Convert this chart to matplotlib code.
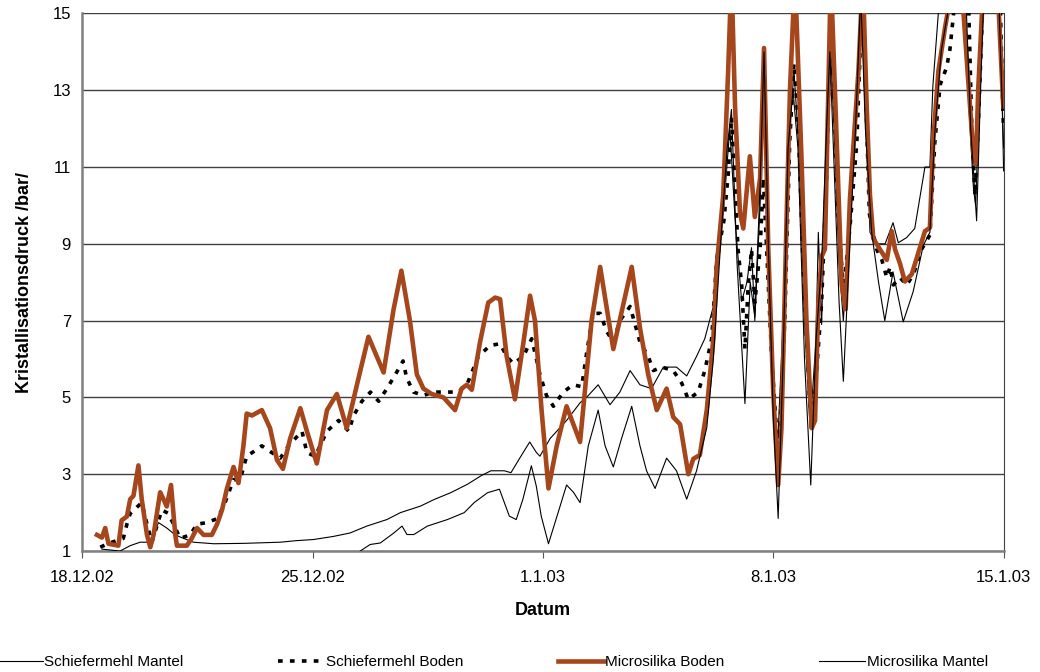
# -*- coding: utf-8 -*-
import numpy as np
import matplotlib.pyplot as plt

plt.rcParams['font.family'] = ['Liberation Sans', 'DejaVu Sans']

# Tage ab 18.12.02 und Kristallisationsdruck in bar
date_ticks = [0, 7, 14, 21, 28]
date_labels = ['18.12.02', '25.12.02', '1.1.03', '8.1.03', '15.1.03']
y_ticks = [1, 3, 5, 7, 9, 11, 13, 15]

# Schiefermehl Mantel
sm_t = [0.6, 1.15, 1.46, 1.76, 2.07, 2.32, 2.57, 2.83, 3.08, 3.38, 4.0, 4.9, 6.02, 6.5,
        7.03, 7.63, 8.14, 8.65, 9.26, 9.67, 10.28, 10.69, 11.2, 11.71, 12.12, 12.42,
        12.83, 13.03, 13.34, 13.6, 13.8, 13.91, 14.22, 14.72, 15.13, 15.38, 15.68, 16.04,
        16.34, 16.65, 16.95, 17.3, 17.66, 18.06, 18.37, 18.67, 18.92, 19.18, 19.35, 19.5,
        19.68, 19.85, 20.04, 20.2, 20.34, 20.44, 20.6, 20.72, 20.85, 21.0, 21.12, 21.3,
        21.5, 21.63, 21.78, 21.95, 22.12, 22.3, 22.37, 22.47, 22.6, 22.72, 22.85, 23.0,
        23.13, 23.3, 23.55, 23.7, 23.8, 23.94, 24.14, 24.4, 24.64, 24.8, 25.05, 25.3,
        25.61, 25.76, 25.85, 26.06, 26.8, 26.95, 27.08, 27.15, 27.25, 27.35, 27.89, 28.0]
sm_v = [1.05, 1.0, 1.14, 1.23, 1.23, 1.74, 1.6, 1.42, 1.33, 1.23, 1.19, 1.2, 1.23, 1.27,
        1.3, 1.38, 1.47, 1.65, 1.82, 2.0, 2.17, 2.34, 2.52, 2.74, 2.96, 3.09,
        3.09, 3.04, 3.48, 3.84, 3.57, 3.47, 3.93, 4.4, 4.86, 5.05, 5.33, 4.81,
        5.14, 5.7, 5.33, 5.23, 5.79, 5.79, 5.56, 6.07, 6.53, 7.37, 8.6, 10.0,
        12.0, 9.5, 7.5, 8.0, 8.9, 7.0, 10.0, 13.0, 9.0, 5.5, 3.5, 7.0,
        12.0, 13.5, 11.5, 7.0, 4.2, 6.5, 9.3, 6.9, 11.0, 14.5, 12.0, 8.5,
        7.0, 9.3, 12.5, 15.5, 12.5, 9.3, 9.0, 9.0, 9.55, 9.03, 9.16, 9.4,
        11.0, 11.0, 13.1, 15.5, 15.5, 12.5, 10.5, 10.0, 12.5, 15.5, 15.5, 10.9]

# Schiefermehl Boden
sb_t = [0.55, 0.8, 1.25, 1.36, 1.46, 1.81, 1.97, 2.12, 2.42, 2.62, 2.83, 2.98, 3.28, 3.49,
        3.79, 4.09, 4.3, 4.6, 4.8, 5.0, 5.16, 5.46, 5.77, 6.02, 6.27, 6.42, 6.68, 6.83,
        7.08, 7.44, 7.79, 8.1, 8.25, 8.5, 8.76, 9.01, 9.26, 9.52, 9.75, 9.86, 10.07, 10.37,
        10.67, 11.08, 11.43, 11.69, 12.04, 12.39, 12.7, 12.9, 13.1, 13.41, 13.66, 13.91,
        14.11, 14.32, 14.62, 14.92, 15.18, 15.33, 15.53, 15.74, 15.94, 16.14, 16.34, 16.65,
        16.95, 17.2, 17.36, 17.61, 17.96, 18.22, 18.42, 18.72, 18.92, 19.13, 19.28, 19.5,
        19.63, 19.73, 19.83, 19.93, 20.04, 20.14, 20.24, 20.34, 20.44, 20.6, 20.7, 20.8,
        20.95, 21.08, 21.18, 21.35, 21.5, 21.63, 21.76, 21.91, 22.12, 22.27, 22.47, 22.62,
        22.72, 22.82, 22.97, 23.13, 23.33, 23.54, 23.64, 23.72, 23.79, 23.92, 24.14, 24.3,
        24.45, 24.55, 24.65, 24.85, 25.06, 25.26, 25.51, 25.76, 25.91, 26.07, 26.27, 26.37,
        26.6, 26.93, 27.03, 27.13, 27.23, 27.38, 27.89, 27.99]
sb_v = [1.1, 1.2, 1.33, 1.7, 1.98, 2.26, 1.7, 1.23, 2.07, 1.98, 1.6, 1.33, 1.42, 1.7,
        1.74, 1.84, 2.16, 2.86, 2.86, 3.47, 3.56, 3.74, 3.56, 3.42, 3.74, 3.88, 4.12, 3.56,
        3.47, 4.12, 4.4, 4.12, 4.53, 4.9, 5.14, 4.9, 5.23, 5.6, 5.95, 5.51, 5.14, 5.05,
        5.14, 5.14, 5.14, 5.33, 6.07, 6.35, 6.4, 6.07, 5.88, 6.07, 6.53, 5.6,
        5.05, 4.77, 5.14, 5.33, 5.28, 6.16, 7.19, 7.19, 6.72, 6.44, 7.0, 7.37,
        6.44, 6.07, 5.7, 5.79, 5.7, 5.37, 4.95, 5.14, 5.7, 6.53, 8.6, 9.6,
        10.8, 12.3, 10.7, 8.86, 7.93, 6.26, 7.93, 8.86, 7.47, 8.86, 10.72, 8.86,
        6.07, 4.4, 3.74, 7.0, 11.65, 13.7, 12.12, 8.4, 4.67, 5.14, 7.47, 10.72,
        14.26, 13.51, 9.79, 7.8, 9.42, 11.65, 13.98, 15.5, 13.51, 9.79, 8.86, 8.58,
        8.12, 8.4, 7.93, 8.12, 7.93, 8.21, 8.86, 9.23, 11.65, 13.14, 13.6, 14.07,
        16.0, 15.5, 12.12, 10.26, 12.12, 15.5, 15.5, 12.12]

# Microsilika Boden
mb_t = [0.45, 0.6, 0.7, 0.8, 1.1, 1.2, 1.36, 1.46, 1.56, 1.71, 1.81, 1.97, 2.07, 2.17,
        2.27, 2.37, 2.47, 2.57, 2.7, 2.83, 2.88, 3.18, 3.33, 3.49, 3.69, 3.94, 4.1, 4.25,
        4.4, 4.6, 4.75, 4.9, 5.0, 5.16, 5.46, 5.71, 5.92, 6.1, 6.32, 6.63, 6.83, 7.13,
        7.44, 7.74, 8.04, 8.35, 8.7, 9.16, 9.46, 9.7, 9.96, 10.17, 10.37, 10.62, 10.98,
        11.33, 11.53, 11.69, 11.84, 12.09, 12.34, 12.55, 12.7, 12.9, 13.15, 13.41, 13.61,
        13.76, 13.96, 14.17, 14.42, 14.72, 15.13, 15.48, 15.74, 16.14, 16.7, 16.95, 17.2,
        17.46, 17.76, 17.96, 18.17, 18.42, 18.57, 18.77, 18.98, 19.18, 19.28, 19.48, 19.63,
        19.73, 19.84, 19.99, 20.09, 20.29, 20.44, 20.6, 20.72, 20.85, 21.0, 21.15, 21.25,
        21.41, 21.51, 21.66, 21.86, 22.01, 22.17, 22.27, 22.37, 22.47, 22.57, 22.75, 22.93,
        23.08, 23.2, 23.33, 23.43, 23.59, 23.72, 23.84, 23.94, 24.04, 24.24, 24.45, 24.6,
        24.7, 24.85, 25.0, 25.21, 25.41, 25.61, 25.76, 25.86, 26.02, 26.22, 26.5, 26.7,
        26.98, 27.08, 27.16, 27.23, 27.4, 27.8, 27.99]
mb_v = [1.42, 1.35, 1.6, 1.19, 1.14, 1.8, 1.9, 2.35, 2.44, 3.23, 2.35, 1.42, 1.1, 1.42,
        1.98, 2.53, 2.35, 2.16, 2.72, 1.42, 1.14, 1.14, 1.33, 1.6, 1.42, 1.42, 1.7, 2.07,
        2.63, 3.19, 2.77, 3.74, 4.58, 4.53, 4.67, 4.2, 3.37, 3.14, 3.93, 4.72, 4.12, 3.28,
        4.67, 5.09, 4.2, 5.33, 6.58, 5.65, 7.28, 8.3, 7.0, 5.6, 5.23, 5.09, 5.0,
        4.67, 5.23, 5.33, 5.2, 6.44, 7.47, 7.6, 7.56, 6.07, 4.95, 6.44, 7.65,
        7.0, 4.67, 2.63, 3.74, 4.77, 3.84, 7.0, 8.4, 6.26, 8.4, 6.81, 5.6,
        4.67, 5.23, 4.49, 4.3, 3.0, 3.4, 3.5, 4.67, 6.53, 8.4, 10.26, 13.5,
        16.0, 12.56, 9.8, 9.4, 11.28, 9.7, 10.7, 14.1, 8.86, 5.14, 2.72, 4.2,
        9.8, 13.05, 16.0, 11.19, 7.0, 4.2, 4.4, 7.47, 8.67, 8.86, 16.0, 11.65,
        7.93, 7.3, 10.16, 11.47, 13.51, 16.0, 12.58, 10.26, 9.14, 8.86, 8.58, 9.33,
        8.86, 8.49, 8.02, 8.21, 8.77, 9.33, 9.42, 11.65, 13.51, 14.63, 16.0, 16.0,
        12.58, 11.37, 11.09, 13.05, 16.0, 16.0, 12.58]

# Microsilika Mantel
mm_t = [8.45, 8.75, 9.06, 9.47, 9.72, 9.87, 10.08, 10.49, 11.1, 11.61, 11.91, 12.32,
        12.68, 12.83, 12.98, 13.19, 13.39, 13.65, 13.8, 13.95, 14.17, 14.52, 14.72, 14.93,
        15.13, 15.38, 15.68, 15.89, 16.14, 16.39, 16.7, 16.95, 17.15, 17.41, 17.76, 18.06,
        18.37, 18.67, 18.98, 19.18, 19.4, 19.6, 19.73, 19.9, 20.14, 20.3, 20.44, 20.6,
        20.72, 20.85, 21.0, 21.15, 21.3, 21.45, 21.6, 21.75, 21.95, 22.14, 22.3, 22.47,
        22.62, 22.72, 22.85, 23.0, 23.13, 23.3, 23.5, 23.66, 23.8, 23.99, 24.2, 24.39,
        24.64, 24.95, 25.25, 25.56, 25.76, 25.91, 26.11, 26.4, 26.85, 27.0, 27.18, 27.3,
        27.4, 27.85, 28.0]
mm_v = [1.0, 1.17, 1.21, 1.47, 1.65, 1.43, 1.43, 1.65, 1.82, 2.0, 2.26, 2.52,
        2.61, 2.26, 1.91, 1.82, 2.34, 3.22, 2.69, 1.91, 1.19, 2.16, 2.72, 2.53,
        2.26, 3.74, 4.67, 3.74, 3.19, 3.93, 4.77, 3.74, 3.09, 2.63, 3.42, 3.09,
        2.35, 3.09, 4.21, 6.0, 9.0, 11.5, 12.5, 8.5, 4.84, 8.0, 7.1, 10.5,
        14.0, 9.0, 4.5, 1.85, 6.0, 11.5, 13.0, 11.5, 6.0, 2.72, 6.5, 8.5,
        12.0, 14.0, 11.0, 7.5, 5.42, 8.5, 12.0, 15.5, 12.0, 9.3, 8.0, 7.0,
        8.27, 6.97, 7.75, 8.96, 9.3, 11.9, 14.05, 15.5, 15.5, 12.0, 9.6, 13.0,
        15.5, 15.5, 11.5]

brown = '#A5461C'

fig = plt.figure(figsize=(10.4, 6.72), dpi=100)
ax = fig.add_axes([0.079, 0.18, 0.886, 0.8])

ax.plot(sm_t, sm_v, color='black', lw=0.8, label='Schiefermehl Mantel', zorder=3)
ax.plot(sb_t, sb_v, color='black', lw=2.6, ls=(0, (1.3, 2.0)), label='Schiefermehl Boden', zorder=4)
ax.plot(mb_t, mb_v, color=brown, lw=3.3, label='Microsilika Boden', zorder=5,
        solid_joinstyle='round')
ax.plot(mm_t, mm_v, color='black', lw=0.8, label='Microsilika Mantel', zorder=6)

ax.set_xlim(0, 28)
ax.set_ylim(1, 15)
ax.set_xticks(date_ticks)
ax.set_xticklabels(date_labels, fontsize=12)
ax.set_yticks(y_ticks)
ax.tick_params(axis='y', labelsize=12, length=0, pad=8)
ax.tick_params(axis='x', length=5, color='#555555', pad=9)
ax.yaxis.grid(True, color='#404040', lw=1.0)
ax.set_axisbelow(True)
for side in ['left', 'bottom']:
    ax.spines[side].set_color('#808080')
    ax.spines[side].set_linewidth(1.8)
ax.spines['right'].set_color('#404040')
ax.spines['right'].set_linewidth(0.8)
ax.spines['top'].set_visible(False)

ax.set_xlabel('Datum', fontsize=13, fontweight='bold', labelpad=12)
ax.set_ylabel('Kristallisationsdruck /bar/', fontsize=13, fontweight='bold', labelpad=14)

fig.legend(loc='lower left', bbox_to_anchor=(-0.016, -0.016), ncol=4, frameon=False,
           fontsize=11, handlelength=3.0, handletextpad=0.1, columnspacing=6.2)

fig.savefig('out.png', dpi=100)
